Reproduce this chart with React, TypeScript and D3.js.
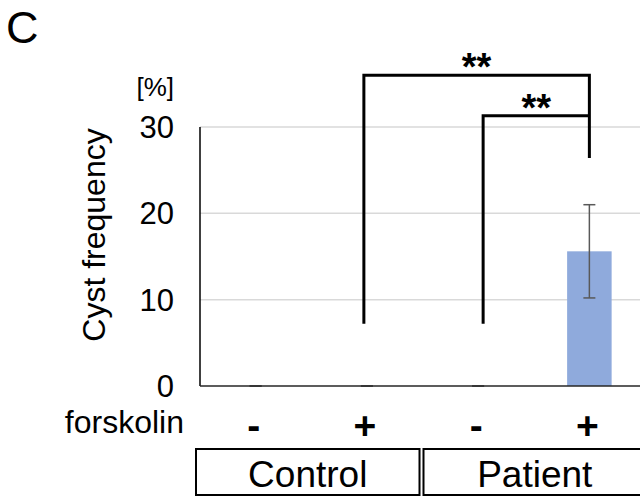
import React from "react";
import * as d3 from "d3";

const categories = ["C-", "C+", "P-", "P+"];
const forskolin = ["-", "+", "-", "+"];
const means = [0, 0, 0, 15.6];
const errors = [0, 0, 0, 5.4];
const groups = [
  { name: "Control", from: 0, to: 1 },
  { name: "Patient", from: 2, to: 3 },
];
const yTicks = [0, 10, 20, 30];
const brackets = [
  { a: 1, b: 3, top: 36.0, footA: 7.2, footB: 26.4, label: "**" },
  { a: 2, b: 3, top: 31.3, footA: 7.2, footB: 31.3, label: "**" },
];

const W = 640;
const H = 498;
const FONT = "'Liberation Sans', Arial, sans-serif";

export default function App() {
  const left = 200;
  const right = 645;
  const y = d3.scaleLinear().domain([0, 30]).range([386, 127]);
  const x = d3
    .scaleBand<number>()
    .domain(categories.map((_, i) => i))
    .range([left, right])
    .paddingInner(0.6)
    .paddingOuter(0.3);
  const bw = x.bandwidth();
  const cx = (i: number) => (x(i) as number) + bw / 2;
  const step = x.step();
  const capW = 12;

  return (
    <svg
      width={W}
      height={H}
      style={{ position: "absolute", left: 0, top: 0, display: "block", background: "#fff" }}
      fontFamily={FONT}
    >
      {/* panel letter */}
      <text x={6} y={43} fontSize={45}>C</text>

      {/* gridlines */}
      {yTicks.filter((t) => t > 0).map((t) => (
        <line key={t} x1={left} x2={right + 10} y1={y(t)} y2={y(t)} stroke="#d9d9d9" strokeWidth={1.5} />
      ))}

      {/* bars */}
      {means.map((m, i) => (
        <rect key={i} x={x(i)} y={y(m)} width={bw} height={y(0) - y(m)} fill="#8faadc" />
      ))}

      {/* error bars */}
      {means.map((m, i) => (
        <g key={i} stroke="#595959" strokeWidth={1.5}>
          <line x1={cx(i)} x2={cx(i)} y1={y(m - errors[i])} y2={y(m + errors[i])} />
          <line x1={cx(i) - capW / 2} x2={cx(i) + capW / 2} y1={y(m + errors[i])} y2={y(m + errors[i])} />
          <line x1={cx(i) - capW / 2} x2={cx(i) + capW / 2} y1={y(m - errors[i])} y2={y(m - errors[i])} />
        </g>
      ))}

      {/* axes */}
      <line x1={left} x2={left} y1={y(30)} y2={y(0)} stroke="#000" strokeWidth={1.5} />
      <line x1={left} x2={right + 10} y1={y(0)} y2={y(0)} stroke="#262626" strokeWidth={1.5} />

      {/* y tick labels */}
      {yTicks.map((t) => (
        <text key={t} x={174} y={y(t) + 11} fontSize={31} textAnchor="end">{t}</text>
      ))}
      <text x={174} y={96} fontSize={26} textAnchor="end">[%]</text>

      {/* y title */}
      <text transform="translate(105,235) rotate(-90)" fontSize={32} textAnchor="middle">Cyst frequency</text>

      {/* forskolin row */}
      <text x={184} y={433} fontSize={32} textAnchor="end">forskolin</text>
      {forskolin.map((s, i) => (
        <text key={i} x={cx(i) - 2} y={439} fontSize={39} fontWeight="bold" textAnchor="middle">{s}</text>
      ))}

      {/* group boxes */}
      {groups.map((g, gi) => {
        const x0 = cx(g.from) - step / 2 + (gi === 0 ? -4 : 1);
        const x1 = cx(g.to) + step / 2 + (gi === 0 ? -3 : 1);
        return (
          <g key={g.name}>
            <rect x={x0} y={449} width={x1 - x0} height={46} fill="none" stroke="#000" strokeWidth={2} />
            <text x={(x0 + x1) / 2} y={487} fontSize={37} textAnchor="middle">{g.name}</text>
          </g>
        );
      })}

      {/* significance brackets */}
      {brackets.map((b, i) => {
        const xa = cx(b.a) + (b.a === 1 ? -3 : 5);
        const xb = cx(b.b);
        return (
          <g key={i}>
            <path
              d={`M${xa},${y(b.footA)} V${y(b.top)} H${xb} V${y(b.footB)}`}
              fill="none"
              stroke="#000"
              strokeWidth={3}
            />
            <text x={(xa + xb) / 2} y={y(b.top) + 5} fontSize={38} fontWeight="bold" textAnchor="middle">
              {b.label}
            </text>
          </g>
        );
      })}
    </svg>
  );
}
